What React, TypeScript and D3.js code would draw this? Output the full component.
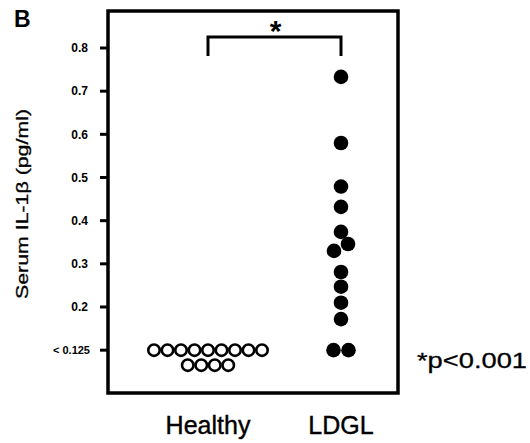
import React from "react";
import * as d3 from "d3";

const categories = ["Healthy", "LDGL"];
// values in pg/ml; 0.1 marks "below detection (< 0.125)"
const healthyValues = [0.1, 0.1, 0.1, 0.1, 0.1, 0.1, 0.1, 0.1, 0.1, 0.1, 0.1, 0.1, 0.1];
const ldglValues = [0.733, 0.58, 0.479, 0.432, 0.374, 0.346, 0.33, 0.281, 0.247, 0.21, 0.172, 0.1, 0.1];
const yTicks = [0.2, 0.3, 0.4, 0.5, 0.6, 0.7, 0.8];
const lodValue = 0.1;
const lodLabel = "< 0.125";
const yLabel = "Serum IL-1\u03b2 (pg/ml)";
const panelLabel = "B";
const pLabel = "*p<0.001";

const W = 530;
const H = 443;
const frame = { x0: 108, x1: 398, y0: 11, y1: 393 };
const font = "'Liberation Sans', Arial, Helvetica, sans-serif";

type Pt = { x: number; y: number };

function layout(values: number[], cx: number, y: d3.ScaleLinear<number, number>, spacing: number, perRow: number, rowGap: number): Pt[] {
  const pts: Pt[] = [];
  const below = values.filter((v) => v <= lodValue);
  const above = values.filter((v) => v > lodValue).sort((a, b) => b - a);
  let idx = 0;
  let row = 0;
  while (idx < below.length) {
    const n = Math.min(perRow, below.length - idx);
    for (let i = 0; i < n; i++) {
      pts.push({ x: cx + (i - (n - 1) / 2) * spacing, y: y(lodValue) + row * rowGap });
    }
    idx += n;
    row++;
  }
  const placed: Pt[] = [];
  const offsets = [0, 7, -7, 14, -14, 21, -21];
  for (const v of above) {
    const py = y(v);
    let chosen = cx;
    for (const o of offsets) {
      const px = cx + o;
      if (placed.every((p) => Math.hypot(p.x - px, p.y - py) >= 13.5)) {
        chosen = px;
        break;
      }
    }
    const p = { x: chosen, y: py };
    placed.push(p);
    pts.push(p);
  }
  return pts;
}

export default function App() {
  const y = d3.scaleLinear().domain([0.2, 0.8]).range([307, 48]);
  const x = d3.scalePoint<string>().domain(categories).range([208, 341]);
  const hx = x("Healthy") as number;
  const lx = x("LDGL") as number;
  const healthyPts = layout(healthyValues, hx, y, 13.5, 9, 15);
  const ldglPts = layout(ldglValues, lx, y, 15, 9, 15);
  const tickFmt = d3.format(".1f");

  return (
    <svg width={W} height={H} style={{ position: "absolute", left: 0, top: 0, background: "#fff" }} fontFamily={font}>
      <rect x={0} y={0} width={W} height={H} fill="#fff" />
      <rect x={frame.x0} y={frame.y0} width={frame.x1 - frame.x0} height={frame.y1 - frame.y0} fill="none" stroke="#000" strokeWidth={3.5} />
      {yTicks.map((t) => (
        <g key={t}>
          <line x1={100} x2={frame.x0} y1={y(t)} y2={y(t)} stroke="#000" strokeWidth={3} />
          <text x={88} y={y(t)} dy="0.36em" textAnchor="end" fontSize={12} fontWeight="bold">{tickFmt(t)}</text>
        </g>
      ))}
      <line x1={100} x2={frame.x0} y1={y(lodValue)} y2={y(lodValue)} stroke="#000" strokeWidth={3} />
      <text x={90} y={y(lodValue)} dy="0.36em" textAnchor="end" fontSize={11} fontWeight="bold">{lodLabel}</text>
      <text transform={`translate(28,204) rotate(-90)`} textAnchor="middle" fontSize={16} textLength={190} lengthAdjust="spacingAndGlyphs" stroke="#000" strokeWidth={0.3}>{yLabel}</text>
      <text x={14} y={27} fontSize={23} fontWeight="bold">{panelLabel}</text>
      {healthyPts.map((p, i) => (
        <circle key={"h" + i} cx={p.x} cy={p.y} r={5.7} fill="#fff" stroke="#000" strokeWidth={2.6} />
      ))}
      {ldglPts.map((p, i) => (
        <circle key={"l" + i} cx={p.x} cy={p.y} r={7.3} fill="#000" />
      ))}
      <path d={`M${hx},56 V37 H${lx} V56`} fill="none" stroke="#000" strokeWidth={3} />
      <text x={(hx + lx) / 2 + 1} y={41} textAnchor="middle" fontSize={30} fontWeight="bold">*</text>
      {categories.map((c) => (
        <text key={c} x={x(c) as number} y={434} textAnchor="middle" fontSize={25} stroke="#000" strokeWidth={0.4}>{c}</text>
      ))}
      <text x={417} y={368} fontSize={22} textLength={110} lengthAdjust="spacingAndGlyphs" stroke="#000" strokeWidth={0.3}>{pLabel}</text>
    </svg>
  );
}
